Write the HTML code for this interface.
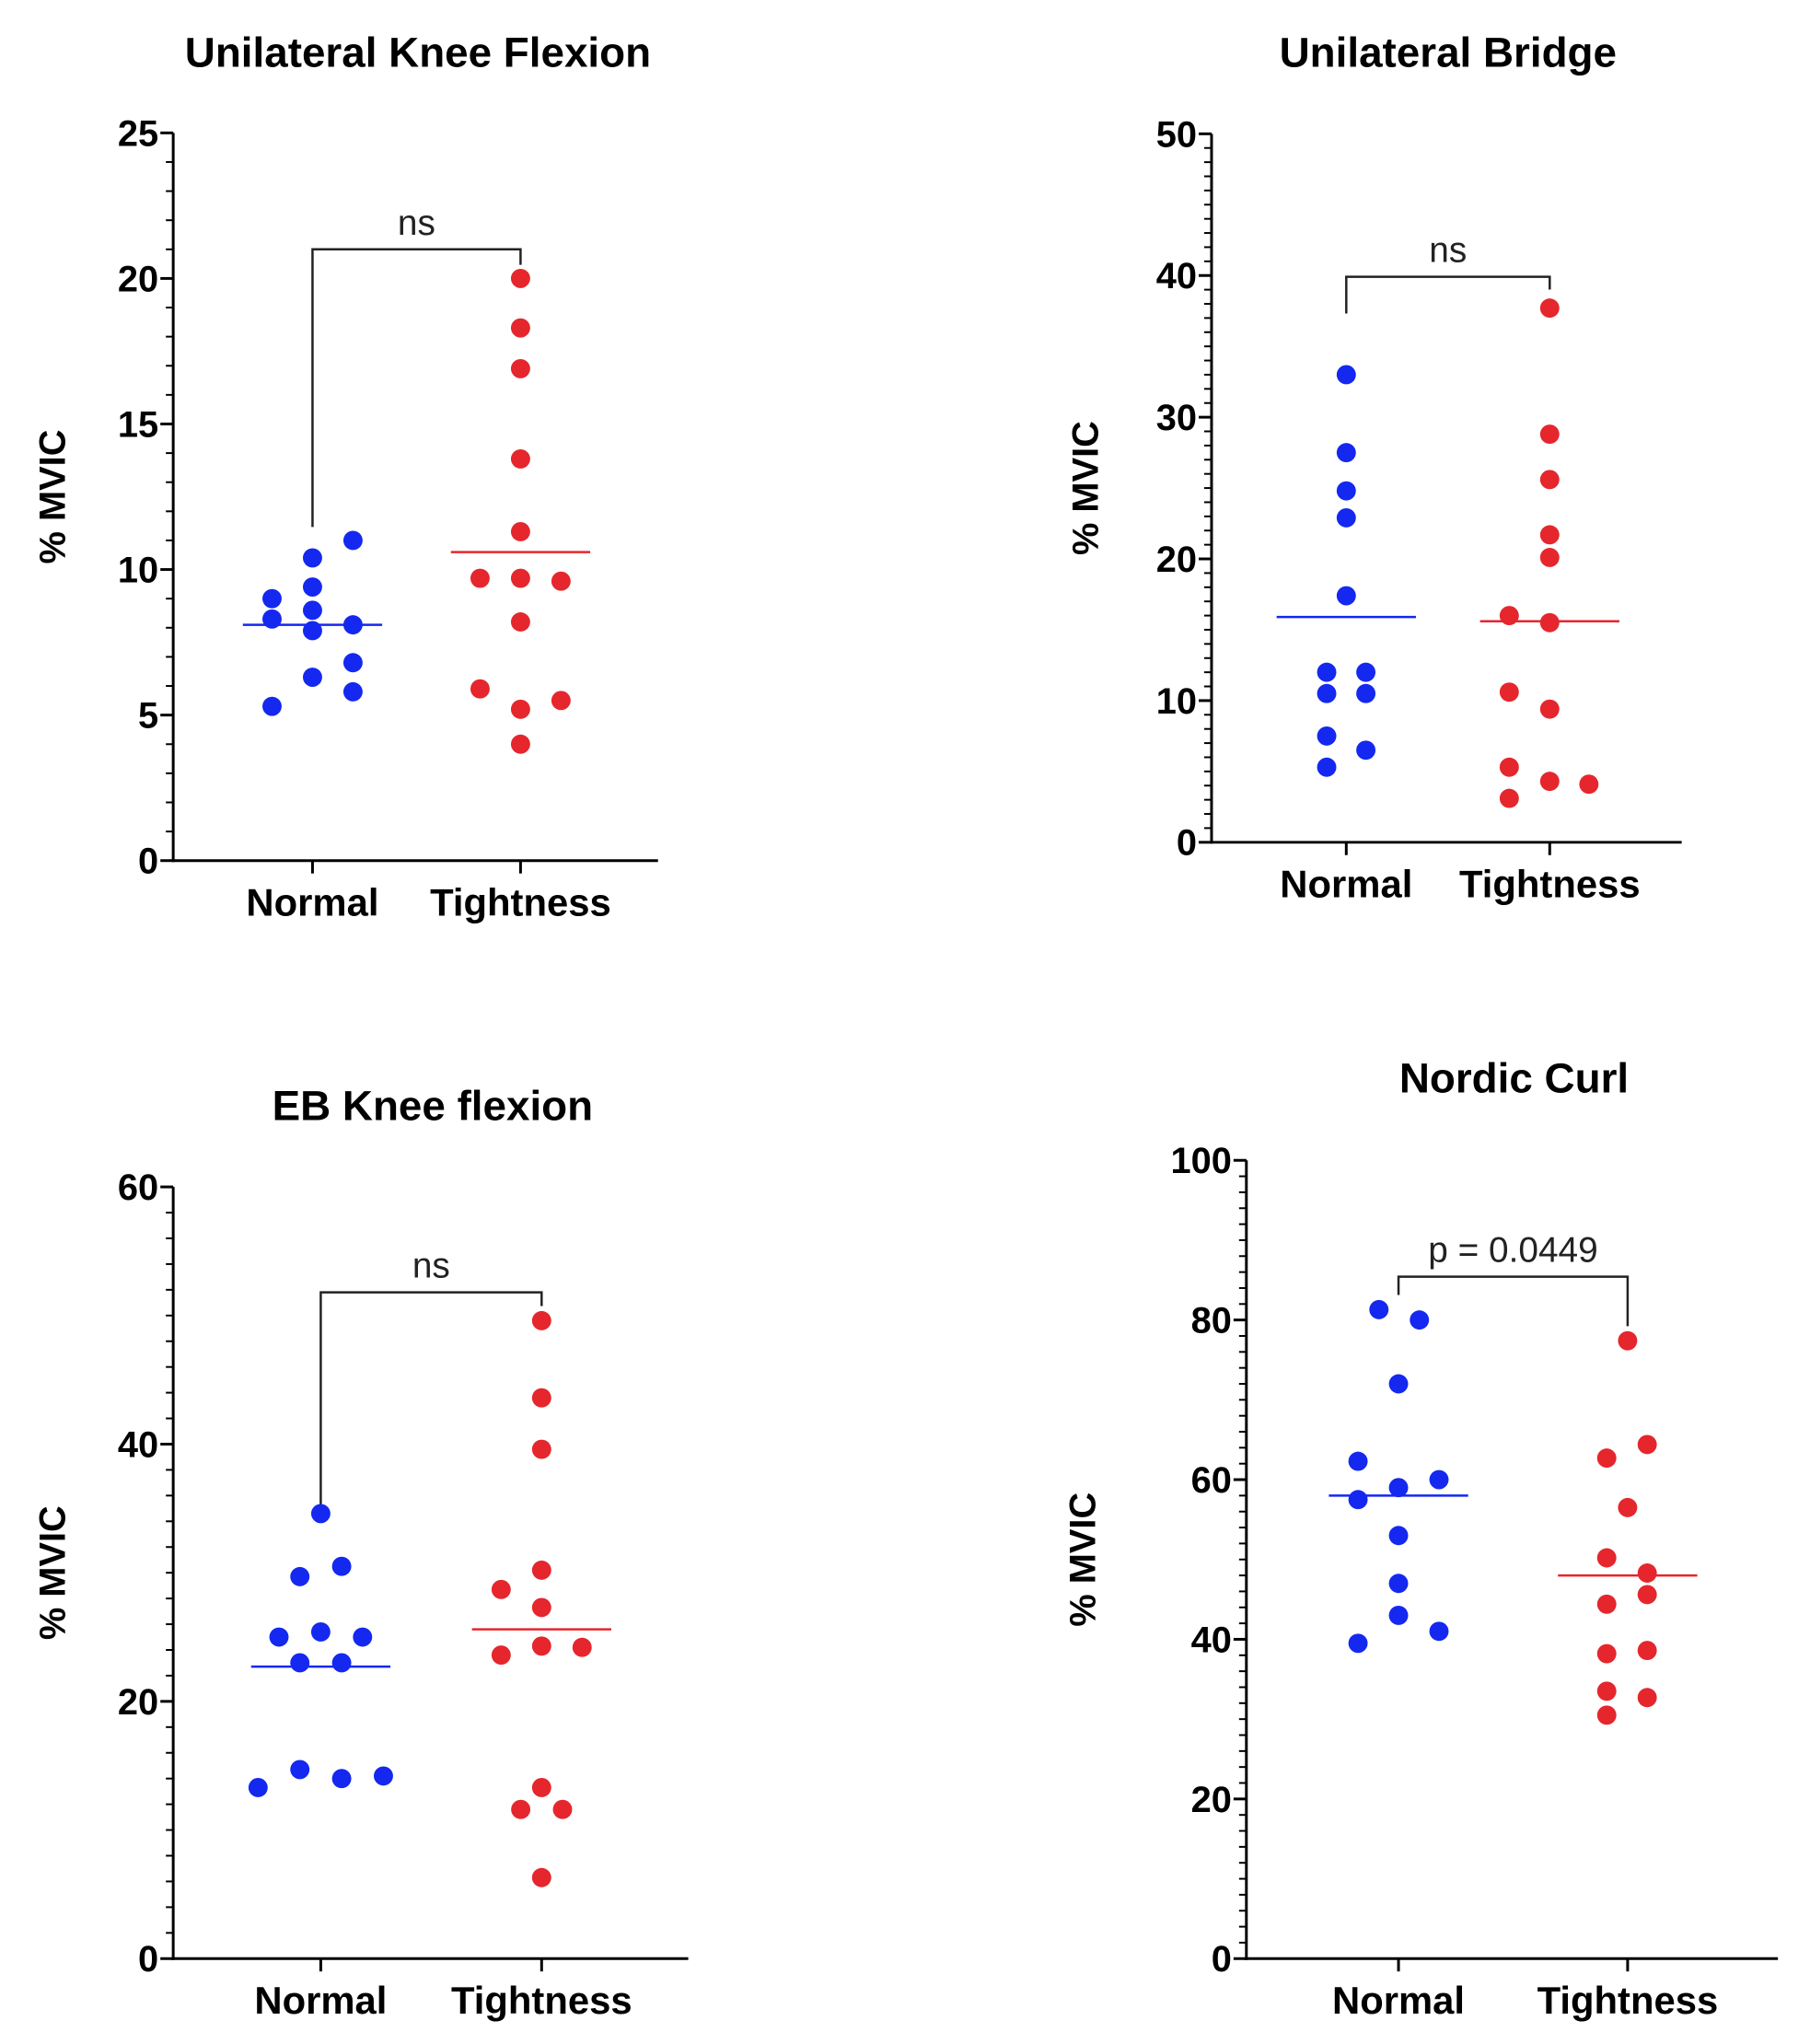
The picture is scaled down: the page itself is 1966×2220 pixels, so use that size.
<!DOCTYPE html>
<html><head><meta charset="utf-8"><style>
html,body{margin:0;padding:0;background:#fff;}
svg{display:block;font-family:"Liberation Sans",Arial,sans-serif;}
</style></head><body>
<svg id="fig" width="1966" height="2220" viewBox="0 0 1975 2230" preserveAspectRatio="xMinYMin meet" xmlns="http://www.w3.org/2000/svg"></svg>
<script>
// ---- data ----
const categories = ["Normal", "Tightness"];
const ukfNormal = [9.0, 8.3, 5.3, 10.4, 9.4, 8.6, 7.9, 6.3, 11.0, 8.1, 6.8, 5.8];
const ukfNormalJit = [-31, -31, -31, 0, 0, 0, 0, 0, 31, 31, 31, 31];
const ukfTight = [9.7, 5.9, 20.0, 18.3, 16.9, 13.8, 11.3, 9.7, 8.2, 5.2, 4.0, 9.6, 5.5];
const ukfTightJit = [-31, -31, 0, 0, 0, 0, 0, 0, 0, 0, 0, 31, 31];
const ukfMedians = [8.1, 10.6];
const ukfTicks = [0, 5, 10, 15, 20, 25];

const brNormal = [33.0, 27.5, 24.8, 22.9, 17.4, 12.0, 12.0, 10.5, 10.5, 7.5, 5.3, 6.5];
const brNormalJit = [0, 0, 0, 0, 0, -15, 15, -15, 15, -15, -15, 15];
const brTight = [37.7, 28.8, 25.6, 21.7, 20.1, 15.5, 9.4, 4.3, 16.0, 10.6, 5.3, 3.1, 4.1];
const brTightJit = [0, 0, 0, 0, 0, 0, 0, 0, -31, -31, -31, -31, 30];
const brMedians = [15.9, 15.6];
const brTicks = [0, 10, 20, 30, 40, 50];

const ebNormal = [34.6, 29.7, 30.5, 25.0, 25.4, 25.0, 23.0, 23.0, 13.3, 14.7, 14.0, 14.2];
const ebNormalJit = [0, -16, 16, -32, 0, 32, -16, 16, -48, -16, 16, 48];
const ebTight = [49.6, 43.6, 39.6, 30.2, 28.7, 27.3, 23.6, 24.3, 24.2, 13.3, 11.6, 11.6, 6.3];
const ebTightJit = [0, 0, 0, 0, -31, 0, -31, 0, 31, 0, -16, 16, 0];
const ebMedians = [22.7, 25.6];
const ebTicks = [0, 20, 40, 60];

const ncNormal = [81.3, 80.0, 72.0, 62.3, 59.0, 60.0, 57.5, 53.0, 47.0, 43.0, 39.5, 41.0];
const ncNormalJit = [-15, 16, 0, -31, 0, 31, -31, 0, 0, 0, -31, 31];
const ncTight = [77.4, 62.7, 64.4, 56.5, 50.2, 48.3, 44.4, 45.6, 38.2, 38.6, 33.5, 32.7, 30.5];
const ncTightJit = [0, -16, 15, 0, -16, 15, -16, 15, -16, 15, -16, 15, -16];
const ncMedians = [58, 48];
const ncTicks = [0, 20, 40, 60, 80, 100];

const S = 1.4246;
const NS = "http://www.w3.org/2000/svg";
const svg = document.getElementById('fig');
function el(tag, attrs, parent){
  const e = document.createElementNS(NS, tag);
  for (const k in attrs) e.setAttribute(k, attrs[k]);
  (parent || svg).appendChild(e);
  return e;
}

function chart(cfg){
  const g = el('g', {});
  
  
  const y = v => cfg.y0 + (cfg.yTop - cfg.y0) * v / cfg.max;
  const xs = [cfg.xN, cfg.xT];
  const t = el('text', {x: cfg.titleX, y: cfg.titleY, 'font-size': 46, 'font-weight': 'bold', 'text-anchor': 'middle'}, g);
  t.textContent = cfg.title;
  
  
  const yt = el('text', {x: 0, y: 0, 'font-size': 40, 'font-weight': 'bold', 'text-anchor': 'middle', transform: `translate(${cfg.axX - cfg.ytOff},${(cfg.y0 + cfg.yTop) / 2}) rotate(-90)`}, g);
  yt.textContent = '% MVIC';
  
  
  const ax = el('line', {x1: cfg.axX, y1: cfg.yTop, x2: cfg.axX, y2: cfg.y0 + 1.5, stroke: '#000', 'stroke-width': 3}, g);
  
  
  const bx = el('line', {x1: cfg.axX - 1.5, y1: cfg.y0, x2: cfg.xEnd, y2: cfg.y0, stroke: '#000', 'stroke-width': 3}, g);
  
  
  for (let v = 0; v <= cfg.max + 1e-9; v += cfg.minor){
    el('line', {x1: cfg.axX - 8, y1: y(v), x2: cfg.axX, y2: y(v), stroke: '#000', 'stroke-width': 2}, g);
  }
  cfg.ticks.forEach(v => {
    el('line', {x1: cfg.axX - 14, y1: y(v), x2: cfg.axX, y2: y(v), stroke: '#000', 'stroke-width': 3}, g);
    const tl = el('text', {x: cfg.axX - 16, y: y(v) + 14, 'font-size': 40, 'font-weight': 'bold', 'text-anchor': 'end'}, g);
    tl.textContent = v;
    
    
  });
  categories.forEach((c, i) => {
    el('line', {x1: xs[i], y1: cfg.y0, x2: xs[i], y2: cfg.y0 + 14, stroke: '#000', 'stroke-width': 3}, g);
    const cl = el('text', {x: xs[i], y: cfg.y0 + 60, 'font-size': 42, 'font-weight': 'bold', 'text-anchor': 'middle'}, g);
    cl.textContent = c;
    
    
  });
  const br = el('path', {d: `M${xs[0]},${cfg.bL} V${cfg.bY} H${xs[1]} V${cfg.bR}`, fill: 'none', stroke: '#222', 'stroke-width': 2.5}, g);
  
  
  const st = el('text', {x: (xs[0] + xs[1]) / 2, y: cfg.bY - 16, 'font-size': 39, 'text-anchor': 'middle', fill: '#222'}, g);
  st.textContent = cfg.sig;
  
  
  const sets = [[cfg.n, cfg.nj, '#1428f0'], [cfg.t, cfg.tj, '#e5262d']];
  sets.forEach((s, i) => {
    s[0].forEach((v, k) => {
      const c = el('circle', {cx: xs[i] + s[1][k] * S, cy: y(v), r: 10.5, fill: s[2]}, g);
      
      
    });
    const m = el('line', {x1: xs[i] - 76, x2: xs[i] + 76, y1: y(cfg.med[i]), y2: y(cfg.med[i]), stroke: s[2], 'stroke-width': 2.5}, g);
    
    
  });
}

chart({name: 'chart-unilateral-knee-flexion', title: 'Unilateral Knee Flexion', titleX: 456, titleY: 73,
  axX: 189, yTop: 145, y0: 939, xEnd: 718, xN: 341, xT: 568, max: 25, minor: 1, ticks: ukfTicks,
  bY: 272, bL: 575, bR: 289, sig: 'ns', ytOff: 118,
  n: ukfNormal, nj: ukfNormalJit, t: ukfTight, tj: ukfTightJit, med: ukfMedians});
chart({name: 'chart-unilateral-bridge', title: 'Unilateral Bridge', titleX: 1580, titleY: 73,
  axX: 1322, yTop: 146, y0: 919, xEnd: 1835, xN: 1469, xT: 1691, max: 50, minor: 1, ticks: brTicks,
  bY: 302, bL: 342, bR: 316, sig: 'ns', ytOff: 124,
  n: brNormal, nj: brNormalJit, t: brTight, tj: brTightJit, med: brMedians});
chart({name: 'chart-eb-knee-flexion', title: 'EB Knee flexion', titleX: 472, titleY: 1222,
  axX: 189, yTop: 1295, y0: 2137, xEnd: 751, xN: 350, xT: 591, max: 60, minor: 2, ticks: ebTicks,
  bY: 1410, bL: 1653, bR: 1425, sig: 'ns', ytOff: 118,
  n: ebNormal, nj: ebNormalJit, t: ebTight, tj: ebTightJit, med: ebMedians});
chart({name: 'chart-nordic-curl', title: 'Nordic Curl', titleX: 1652, titleY: 1192,
  axX: 1360, yTop: 1266, y0: 2137, xEnd: 1940, xN: 1526, xT: 1776, max: 100, minor: 2, ticks: ncTicks,
  bY: 1393, bL: 1413, bR: 1447, sig: 'p = 0.0449', ytOff: 165,
  n: ncNormal, nj: ncNormalJit, t: ncTight, tj: ncTightJit, med: ncMedians});
</script>
</body></html>
